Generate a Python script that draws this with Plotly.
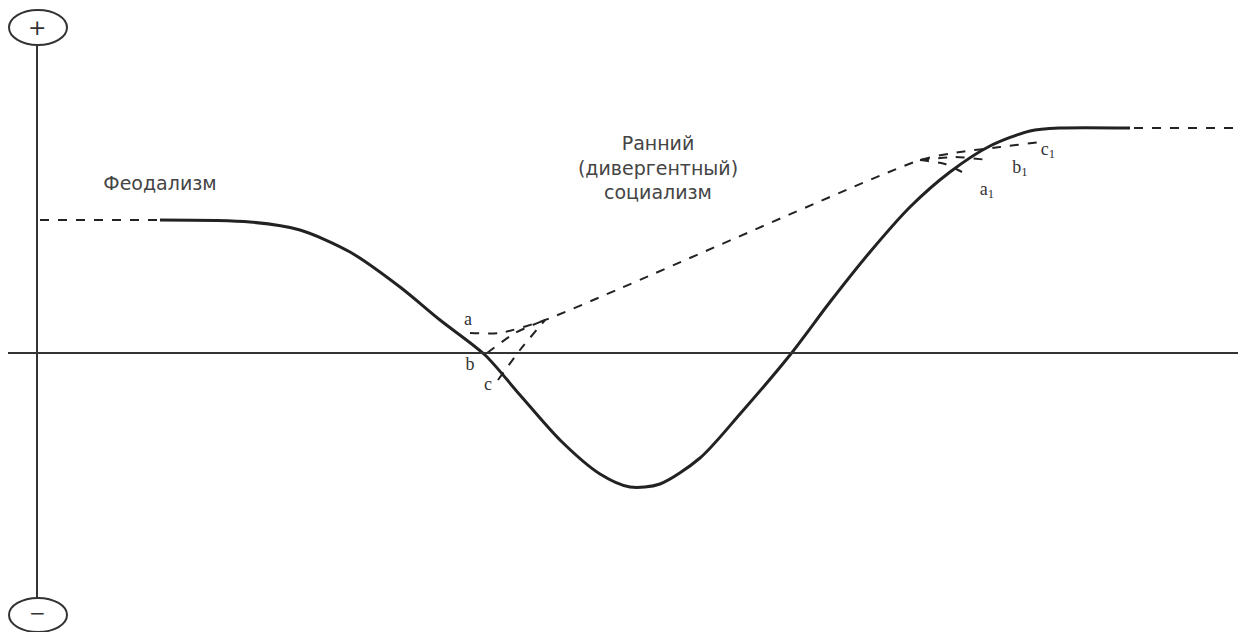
import plotly.graph_objects as go

# Schematic coordinates (horizontal: time, vertical: level; page-like units, y grows downward)
curve_x = [160, 250, 300, 350, 400, 440, 485, 520, 560, 600, 630, 660, 700, 740, 790, 830, 870, 910, 950, 990, 1030, 1060, 1130]
curve_y = [220, 222, 230, 252, 287, 320, 355, 395, 440, 474, 487, 484, 458, 414, 355, 302, 252, 207, 172, 146, 131, 128, 128]

left_dash_x = [40, 158]
left_dash_y = [220, 220]
right_dash_x = [1134, 1246]
right_dash_y = [128, 128]

main_dash_x = [470, 500, 545, 920, 960, 1000, 1040]
main_dash_y = [333, 333, 320, 160, 152, 147, 142]
branch_b_x = [487, 515, 545]
branch_b_y = [353, 333, 320]
branch_c_x = [498, 520, 545]
branch_c_y = [380, 350, 320]
branch_b1_x = [920, 955, 988]
branch_b1_y = [160, 157, 160]
branch_a1_x = [920, 945, 962]
branch_a1_y = [160, 164, 172]

names = ["Феодализм", "Ранний<br>(дивергентный)<br>социализм"]
name_x = [160, 658]
name_y = [185, 170]

letters = ["a", "b", "c", "a<sub>1</sub>", "b<sub>1</sub>", "c<sub>1</sub>"]
letter_x = [468, 470, 488, 987, 1020, 1048]
letter_y = [320, 365, 385, 190, 168, 150]

ox, oy = 8, 8  # page body margin

fig = go.Figure()
ink = "#222"
fig.add_trace(go.Scatter(x=curve_x, y=curve_y, mode="lines", line=dict(color=ink, width=3, shape="spline", smoothing=0.8), hoverinfo="skip"))
fig.add_trace(go.Scatter(x=left_dash_x, y=left_dash_y, mode="lines", line=dict(color=ink, width=2, dash="dash"), hoverinfo="skip"))
fig.add_trace(go.Scatter(x=right_dash_x, y=right_dash_y, mode="lines", line=dict(color=ink, width=2, dash="dash"), hoverinfo="skip"))
for xs, ys in [(main_dash_x, main_dash_y), (branch_b_x, branch_b_y), (branch_c_x, branch_c_y), (branch_b1_x, branch_b1_y), (branch_a1_x, branch_a1_y)]:
    fig.add_trace(go.Scatter(x=xs, y=ys, mode="lines", line=dict(color=ink, width=2, dash="dash", shape="spline", smoothing=0.6), hoverinfo="skip"))

fig.add_trace(go.Scatter(x=name_x, y=name_y, mode="text", text=names,
                         textfont=dict(family="DejaVu Sans", size=19, color="#444"), hoverinfo="skip"))
fig.add_trace(go.Scatter(x=letter_x, y=letter_y, mode="text", text=letters,
                         textfont=dict(family="Liberation Serif", size=18, color="#333"), hoverinfo="skip"))

# axes lines and +/- circles
fig.add_shape(type="line", x0=ox, x1=1246, y0=353, y1=353, line=dict(color="#333", width=2))
fig.add_shape(type="line", x0=37, x1=37, y0=45, y1=598, line=dict(color="#333", width=2))
fig.add_shape(type="circle", x0=9, x1=67, y0=10, y1=45, line=dict(color="#333", width=2))
fig.add_shape(type="circle", x0=9, x1=67, y0=598, y1=632, line=dict(color="#333", width=2))
fig.add_annotation(x=37, y=27, text="+", showarrow=False, font=dict(size=22, color="#333", family="DejaVu Sans"))
fig.add_annotation(x=37, y=613, text="−", showarrow=False, font=dict(size=20, color="#333", family="DejaVu Sans"))

fig.update_layout(
    width=1246 - ox, height=632 - oy, margin=dict(l=0, r=0, t=0, b=0),
    paper_bgcolor="white", plot_bgcolor="white", showlegend=False,
    xaxis=dict(range=[ox, 1246], visible=False, fixedrange=True),
    yaxis=dict(range=[632, oy], visible=False, fixedrange=True),
)
fig.write_html("out.html")
